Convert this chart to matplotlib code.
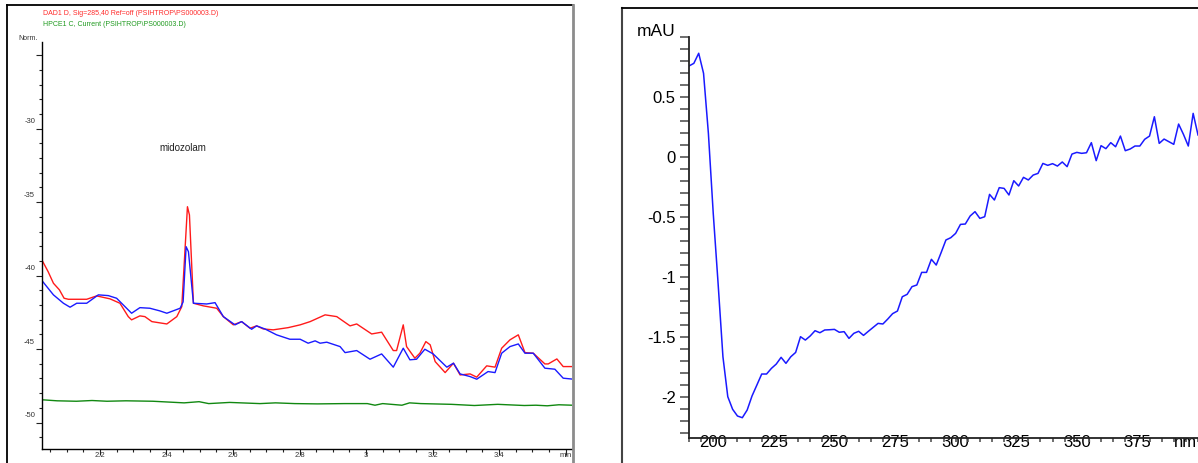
"""Chromatogram (DAD/HPCE overlay) next to the UV spectrum of the midozolam peak."""

import matplotlib

matplotlib.use("Agg")

import matplotlib.pyplot as plt
import matplotlib.transforms as mtransforms
import numpy as np
from matplotlib import font_manager
from matplotlib.lines import Line2D
from matplotlib.ticker import FixedLocator, MultipleLocator


# Output size in pixels (dpi 100).
W, H = 1198, 463

# Left panel: retention time (min) and normalised signals.
RED_TIME = [2.028, 2.044, 2.060, 2.078, 2.092, 2.105, 2.160, 2.190, 2.230, 2.260,
            2.285, 2.295, 2.320, 2.335, 2.356, 2.401, 2.431, 2.446, 2.463, 2.469,
            2.481, 2.511, 2.551, 2.571, 2.601, 2.626, 2.651, 2.671, 2.691, 2.721,
            2.766, 2.802, 2.832, 2.877, 2.912, 2.952, 2.972, 3.017, 3.047, 3.082,
            3.092, 3.112, 3.122, 3.147, 3.162, 3.180, 3.193, 3.208, 3.238, 3.263,
            3.283, 3.313, 3.333, 3.363, 3.388, 3.408, 3.433, 3.458, 3.478, 3.503,
            3.538, 3.548, 3.574, 3.593, 3.624]
RED_SIGNAL = [-39.05, -39.73, -40.52, -40.97, -41.54, -41.61, -41.61, -41.38, -41.58, -41.88,
              -42.79, -43.01, -42.74, -42.79, -43.13, -43.29, -42.79, -42.11, -35.31, -35.87,
              -41.88, -42.06, -42.22, -42.79, -43.35, -43.13, -43.58, -43.42, -43.63, -43.69,
              -43.54, -43.35, -43.13, -42.67, -42.79, -43.42, -43.29, -43.97, -43.85, -45.10,
              -45.10, -43.35, -44.83, -45.62, -45.28, -44.49, -44.71, -45.85, -46.60, -45.96,
              -46.76, -46.69, -46.91, -46.14, -46.23, -44.94, -44.37, -44.03, -45.24, -45.28,
              -46.01, -46.01, -45.67, -46.19, -46.19]

BLUE_TIME = [2.028, 2.040, 2.060, 2.090, 2.110, 2.130, 2.160, 2.195, 2.225, 2.250,
             2.295, 2.320, 2.350, 2.380, 2.401, 2.441, 2.450, 2.459, 2.466, 2.481,
             2.521, 2.546, 2.571, 2.606, 2.626, 2.656, 2.671, 2.696, 2.731, 2.771,
             2.802, 2.826, 2.847, 2.862, 2.882, 2.922, 2.937, 2.972, 3.012, 3.047,
             3.082, 3.112, 3.132, 3.152, 3.177, 3.202, 3.243, 3.263, 3.283, 3.313,
             3.333, 3.367, 3.388, 3.408, 3.433, 3.458, 3.478, 3.503, 3.538, 3.568,
             3.593, 3.624]
BLUE_SIGNAL = [-40.41, -40.75, -41.31, -41.88, -42.15, -41.88, -41.88, -41.31, -41.36, -41.54,
               -42.56, -42.18, -42.22, -42.40, -42.56, -42.22, -41.79, -38.03, -38.37, -41.88,
               -41.93, -41.84, -42.79, -43.35, -43.13, -43.65, -43.42, -43.63, -44.03, -44.33,
               -44.33, -44.60, -44.44, -44.60, -44.53, -44.83, -45.24, -45.10, -45.69, -45.33,
               -46.23, -44.94, -45.73, -45.69, -45.01, -45.33, -46.23, -45.96, -46.69, -46.87,
               -47.05, -46.53, -46.60, -45.28, -44.83, -44.65, -45.28, -45.28, -46.30, -46.37,
               -46.98, -47.05]

GREEN_TIME = [2.026, 2.071, 2.129, 2.176, 2.221, 2.278, 2.359, 2.453, 2.498, 2.527,
              2.590, 2.681, 2.728, 2.786, 2.854, 2.935, 3.004, 3.027, 3.050, 3.108,
              3.131, 3.165, 3.257, 3.326, 3.396, 3.476, 3.511, 3.545, 3.580, 3.620]
GREEN_SIGNAL = [-48.45, -48.52, -48.55, -48.50, -48.55, -48.52, -48.55, -48.66, -48.58, -48.71,
                -48.63, -48.71, -48.66, -48.71, -48.73, -48.71, -48.71, -48.82, -48.71, -48.82,
                -48.66, -48.71, -48.76, -48.84, -48.76, -48.84, -48.82, -48.86, -48.79, -48.82]

TIME_TICKS = [2.2, 2.4, 2.6, 2.8, 3.0, 3.2, 3.4, 3.6]
TIME_LABELS = ["2.2", "2.4", "2.6", "2.8", "3", "3.2", "3.4", "min"]
NORM_TICKS = [-50, -45, -40, -35, -30, -25]
NORM_LABELS = ["-50", "-45", "-40", "-35", "-30", ""]

RED_TITLE = "DAD1 D, Sig=285,40 Ref=off (PSIHTROP\\PS000003.D)"
GREEN_TITLE = "HPCE1 C, Current (PSIHTROP\\PS000003.D)"
PEAK_NAME = "midozolam"

# Right panel: UV spectrum, one reading every 2 nm from 190 to 400 nm.
WAVELENGTH = np.arange(190, 401, 2)
ABSORBANCE = [0.756, 0.778, 0.862, 0.695, 0.195, -0.472, -1.055, -1.667, -2.000, -2.105,
              -2.161, -2.175, -2.111, -1.994, -1.903, -1.811, -1.811, -1.764, -1.728, -1.672,
              -1.722, -1.667, -1.631, -1.500, -1.528, -1.494, -1.450, -1.467, -1.444, -1.442,
              -1.439, -1.463, -1.458, -1.514, -1.472, -1.455, -1.489, -1.455, -1.422, -1.389,
              -1.394, -1.353, -1.308, -1.286, -1.167, -1.147, -1.083, -1.069, -0.964, -0.964,
              -0.855, -0.903, -0.800, -0.694, -0.675, -0.639, -0.564, -0.561, -0.494, -0.458,
              -0.514, -0.500, -0.314, -0.361, -0.258, -0.264, -0.319, -0.200, -0.244, -0.172,
              -0.194, -0.153, -0.139, -0.056, -0.072, -0.058, -0.078, -0.044, -0.083, 0.022,
              0.036, 0.028, 0.033, 0.117, -0.033, 0.092, 0.067, 0.117, 0.083, 0.172,
              0.050, 0.064, 0.089, 0.089, 0.145, 0.172, 0.333, 0.111, 0.147, 0.125,
              0.103, 0.272, 0.186, 0.089, 0.361, 0.181]

NM_TICKS = [200, 225, 250, 275, 300, 325, 350, 375, 395]
NM_LABELS = ["200", "225", "250", "275", "300", "325", "350", "375", "nm"]
MAU_TICKS = [-2, -1.5, -1, -0.5, 0, 0.5]
MAU_LABELS = ["-2", "-1.5", "-1", "-0.5", "0", "0.5"]

installed = {f.name for f in font_manager.fontManager.ttflist}
NARROW = "Liberation Sans Narrow" if "Liberation Sans Narrow" in installed else "Liberation Sans"
plt.rcParams["font.family"] = ["Liberation Sans", "DejaVu Sans"]


def fx(px):
    return px / W


def fy(py):
    return 1 - py / H


def frame_line(fig, x0, y0, x1, y1, color="black", lw=1.3):
    fig.add_artist(Line2D([fx(x0), fx(x1)], [fy(y0), fy(y1)], color=color, lw=lw,
                          transform=fig.transFigure))


def plot_chromatogram(fig):
    ax = fig.add_axes([fx(42), fy(449), fx(572) - fx(42), fy(42) - fy(449)])
    ax.plot(RED_TIME, RED_SIGNAL, color="#ff1a1a", lw=1.0)
    ax.plot(BLUE_TIME, BLUE_SIGNAL, color="#1a1aff", lw=1.0)
    ax.plot(GREEN_TIME, GREEN_SIGNAL, color="#118811", lw=1.0)
    ax.set_xlim(2.0256, 3.6195)
    ax.set_ylim(-51.8, -24.1)

    for side in ("top", "right"):
        ax.spines[side].set_visible(False)
    for side in ("left", "bottom"):
        ax.spines[side].set_linewidth(1.0)

    ax.xaxis.set_major_locator(FixedLocator(TIME_TICKS))
    ax.set_xticklabels(TIME_LABELS)
    ax.xaxis.set_minor_locator(MultipleLocator(0.05))
    ax.yaxis.set_major_locator(FixedLocator(NORM_TICKS))
    ax.set_yticklabels(NORM_LABELS)
    ax.yaxis.set_minor_locator(MultipleLocator(1))
    ax.tick_params(which="both", direction="out", colors="#222222", labelsize=5.5,
                   labelcolor="#333333", width=0.8)
    ax.tick_params(which="major", length=4)
    ax.tick_params(which="minor", length=2.5)
    ax.tick_params(axis="x", which="major", pad=-2)
    ax.tick_params(axis="y", which="major", pad=1)
    for label in ax.get_xticklabels() + ax.get_yticklabels():
        label.set_fontfamily([NARROW, "DejaVu Sans"])

    # ChemStation prints the y labels a little above their ticks.
    shift = mtransforms.ScaledTranslation(0, 0.08, fig.dpi_scale_trans)
    for label in ax.get_yticklabels():
        label.set_transform(label.get_transform() + shift)

    fig.text(fx(43), fy(13.3), RED_TITLE, color="#ff2a2a", fontsize=5,
             family=[NARROW, "DejaVu Sans"], va="center", ha="left")
    fig.text(fx(43), fy(24), GREEN_TITLE, color="#1f9a1f", fontsize=5,
             family=[NARROW, "DejaVu Sans"], va="center", ha="left")
    fig.text(fx(18), fy(39), "Norm.", color="#333333", fontsize=5,
             family=[NARROW, "DejaVu Sans"], va="center", ha="left")
    fig.text(fx(183), fy(148), PEAK_NAME, color="#222222", fontsize=7,
             va="center", ha="center")


def plot_spectrum(fig):
    ax = fig.add_axes([fx(689), fy(437.5), fx(1198) - fx(689), fy(36.7) - fy(437.5)])
    ax.plot(WAVELENGTH, ABSORBANCE, color="#1a1aff", lw=1.1)
    ax.set_xlim(190, 400)
    ax.set_ylim(-2.34, 1.0)

    for side in ("top", "right"):
        ax.spines[side].set_visible(False)
    for side in ("left", "bottom"):
        ax.spines[side].set_linewidth(1.3)
        ax.spines[side].set_color("#222222")

    ax.xaxis.set_major_locator(FixedLocator(NM_TICKS))
    ax.set_xticklabels(NM_LABELS)
    ax.xaxis.set_minor_locator(MultipleLocator(5))
    ax.yaxis.set_major_locator(FixedLocator(MAU_TICKS))
    ax.set_yticklabels(MAU_LABELS)
    ax.yaxis.set_minor_locator(MultipleLocator(0.1))
    ax.tick_params(which="both", direction="out", colors="#555555", labelcolor="black",
                   labelsize=12, width=1.2)
    ax.tick_params(axis="y", which="both", length=6.5, pad=3)
    ax.tick_params(axis="x", which="both", length=3, pad=-4.5)

    fig.text(fx(656), fy(31), "mAU", fontsize=12.5, va="center", ha="center")


def main():
    fig = plt.figure(figsize=(W / 100, H / 100), dpi=100)

    # Report frames around the two panels.
    frame_line(fig, 6.5, 5, 6.5, H)
    frame_line(fig, 6.5, 5, 572.5, 5)
    frame_line(fig, 572.5, 5, 572.5, H, color="#8c8c8c", lw=2)
    frame_line(fig, 621.5, 7.5, 621.5, H, color="#444444", lw=1.5)
    frame_line(fig, 621.5, 7.5, W, 7.5)

    plot_chromatogram(fig)
    plot_spectrum(fig)

    fig.savefig("out.png", dpi=100)
    plt.close(fig)


if __name__ == "__main__":
    main()
